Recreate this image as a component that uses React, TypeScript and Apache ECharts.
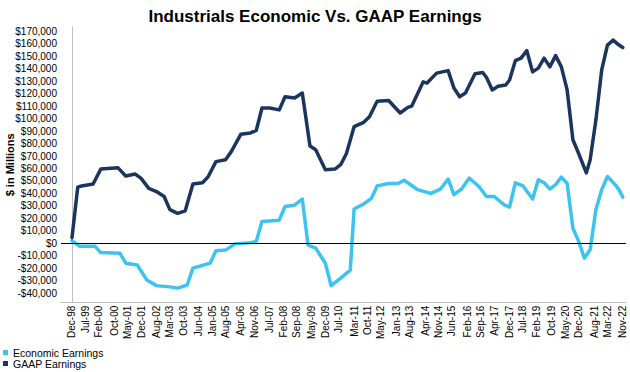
import React, { useEffect, useRef } from "react";
import * as echarts from "echarts";

const MONTH_NAMES = ["Jan", "Feb", "Mar", "Apr", "May", "Jun", "Jul", "Aug", "Sep", "Oct", "Nov", "Dec"];
// Monthly categories from Dec-98 to Nov-22
const months: string[] = Array.from({ length: 288 }, (_, i) => {
  const m = (11 + i) % 12;
  const y = 1998 + Math.floor((11 + i) / 12);
  return `${MONTH_NAMES[m]}-${String(y % 100).padStart(2, "0")}`;
});

const tickLabels = [
  "Dec-98", "Jul-99", "Feb-00", "Oct-00", "May-01", "Dec-01", "Aug-02", "Mar-03", "Oct-03", "Jun-04",
  "Jan-05", "Aug-05", "Apr-06", "Nov-06", "Jul-07", "Feb-08", "Sep-08", "May-09", "Dec-09", "Jul-10",
  "Mar-11", "Oct-11", "May-12", "Jan-13", "Aug-13", "Apr-14", "Nov-14", "Jun-15", "Feb-16", "Sep-16",
  "Apr-17", "Dec-17", "Jul-18", "Feb-19", "Oct-19", "May-20", "Dec-20", "Aug-21", "Mar-22", "Nov-22",
];

const yTicks = [
  -40000, -30000, -20000, -10000, 0, 10000, 20000, 30000, 40000, 50000, 60000, 70000, 80000, 90000,
  100000, 110000, 120000, 130000, 140000, 150000, 160000, 170000,
];

const gaapDates = [
  "Dec-98", "Mar-99", "May-99", "Nov-99", "Mar-00", "Dec-00", "Apr-01", "Sep-01", "Dec-01", "Apr-02",
  "Aug-02", "Dec-02", "Mar-03", "Jul-03", "Nov-03", "Mar-04", "Aug-04", "Nov-04", "Mar-05", "Aug-05",
  "Nov-05", "Apr-06", "Sep-06", "Dec-06", "Mar-07", "Jul-07", "Dec-07", "Mar-08", "Aug-08", "Dec-08",
  "Apr-09", "Jul-09", "Dec-09", "May-10", "Aug-10", "Nov-10", "Mar-11", "Aug-11", "Nov-11", "Mar-12",
  "Sep-12", "Mar-13", "Jul-13", "Sep-13", "Mar-14", "May-14", "Oct-14", "Apr-15", "Jul-15", "Oct-15",
  "Jan-16", "Jun-16", "Oct-16", "Dec-16", "Mar-17", "Jun-17", "Oct-17", "Dec-17", "Mar-18", "Jun-18",
  "Sep-18", "Dec-18", "Mar-19", "Jun-19", "Sep-19", "Dec-19", "Mar-20", "Jun-20", "Sep-20", "Dec-20",
  "Apr-21", "Jun-21", "Sep-21", "Dec-21", "Mar-22", "Jun-22", "Sep-22", "Nov-22",
];
const gaapValues = [
  4500, 45000, 46000, 47500, 59500, 60500, 54000, 55500, 52000, 44000,
  41500, 37500, 27000, 24000, 26000, 47500, 48500, 53500, 65500, 67000,
  73500, 87500, 88500, 90500, 108500, 108500, 107000, 117500, 116500, 120500,
  78000, 75000, 59000, 59500, 63000, 72000, 93500, 97000, 101500, 114000,
  114500, 104500, 109000, 110000, 129500, 128500, 136500, 138500, 124500, 117500,
  120500, 136000, 137000, 133000, 123000, 126000, 127000, 131000, 146500, 148500,
  154500, 137500, 140500, 148500, 141500, 150500, 141500, 123000, 83000, 72000,
  56500, 67000, 99000, 139000, 159000, 163000, 159000, 157000,
];

const econDates = [
  "Dec-98", "Apr-99", "Dec-99", "Mar-00", "Jan-01", "Apr-01", "Oct-01", "Mar-02", "Aug-02", "Mar-03",
  "Jul-03", "Dec-03", "Mar-04", "Dec-04", "Mar-05", "Aug-05", "Jan-06", "Sep-06", "Dec-06", "Mar-07",
  "Dec-07", "Mar-08", "Aug-08", "Dec-08", "Mar-09", "Jul-09", "Dec-09", "Mar-10", "Aug-10", "Jan-11",
  "Mar-11", "Aug-11", "Dec-11", "Mar-12", "Sep-12", "Feb-13", "May-13", "Jul-13", "Dec-13", "Jul-14",
  "Oct-14", "Dec-14", "Apr-15", "Jul-15", "Nov-15", "Mar-16", "Aug-16", "Dec-16", "Apr-17", "Sep-17",
  "Dec-17", "Mar-18", "Jul-18", "Dec-18", "Mar-19", "Jun-19", "Sep-19", "Dec-19", "Mar-20", "Jun-20",
  "Sep-20", "Dec-20", "Mar-21", "Jun-21", "Sep-21", "Dec-21", "Mar-22", "Jul-22", "Sep-22", "Nov-22",
];
const econValues = [
  2000, -2500, -2500, -7500, -8000, -16000, -17500, -29500, -34000, -35000,
  -36000, -33500, -20000, -16000, -6000, -5500, -500, 500, 1500, 17500,
  18500, 29500, 30500, 35500, -1500, -4000, -16000, -34000, -28000, -21500,
  27500, 31500, 36000, 46000, 48000, 48000, 50500, 48500, 43000, 40000,
  42000, 43500, 51500, 39000, 43500, 52300, 45500, 37500, 37500, 31000,
  29000, 48500, 46000, 35500, 51000, 48500, 43500, 47000, 53000, 48000,
  12000, 1500, -12000, -5000, 27000, 43000, 53500, 47000, 43000, 37000,
];

const FONT = "'Liberation Sans', Arial, Helvetica, sans-serif";
const ECON_COLOR = "#3cc3f0";
const GAAP_COLOR = "#1c355e";

const fmtMoney = (v: number) => (v < 0 ? "-$" : "$") + Math.abs(v).toLocaleString("en-US");

export default function App() {
  const ref = useRef<HTMLDivElement>(null);

  useEffect(() => {
    if (!ref.current) return;
    const chart = echarts.init(ref.current, undefined, { renderer: "svg" });
    const toPoints = (dates: string[], values: number[]) =>
      dates.map((d, i) => [months.indexOf(d), values[i]]);

    chart.setOption({
      animation: false,
      textStyle: { fontFamily: FONT },
      title: {
        text: "Industrials Economic Vs. GAAP Earnings",
        left: "center",
        top: 3,
        textStyle: { fontSize: 17, fontWeight: "bold", color: "#000", fontFamily: FONT },
      },
      legend: {
        data: ["Economic Earnings", "GAAP Earnings"],
        orient: "vertical",
        left: 3,
        top: 347,
        padding: 0,
        itemGap: 0,
        itemWidth: 5,
        itemHeight: 5,
        icon: "rect",
        textStyle: { fontSize: 10.5, color: "#000", lineHeight: 11, fontFamily: FONT },
      },
      grid: { left: 61, right: 4, top: 27, bottom: 69.3, containLabel: false, outerBoundsMode: "none" },
      xAxis: {
        type: "value",
        min: -5.73,
        max: 288.67,
        axisLine: { show: true, onZero: false, lineStyle: { color: "#bfbfbf", width: 1 } },
        axisTick: { show: false },
        splitLine: { show: false },
        axisLabel: {
          customValues: tickLabels.map((l) => months.indexOf(l)),
          formatter: (v: number) => months[Math.round(v)],
          rotate: 90,
          fontSize: 10,
          color: "#000",
          margin: 3,
          fontFamily: FONT,
        },
      },
      yAxis: {
        type: "value",
        min: -47700,
        max: 173500,
        name: "$ in Millions",
        nameLocation: "middle",
        nameGap: 46,
        nameMoveOverlap: false,
        nameTextStyle: { fontSize: 11, fontWeight: "bold", color: "#000", fontFamily: FONT },
        axisLine: { show: true, lineStyle: { color: "#bfbfbf", width: 1 } },
        axisTick: { show: false },
        splitLine: { show: false },
        axisLabel: {
          customValues: yTicks,
          formatter: (v: number) => fmtMoney(v),
          fontSize: 10,
          color: "#000",
          margin: 4,
          fontFamily: FONT,
        },
      },
      series: [
        {
          name: "Economic Earnings",
          type: "line",
          data: toPoints(econDates, econValues),
          symbol: "none",
          color: ECON_COLOR,
          lineStyle: { color: ECON_COLOR, width: 3.5, cap: "round", join: "round" },
          markLine: {
            silent: true,
            symbol: ["none", "none"],
            label: { show: false },
            lineStyle: { color: "#000", width: 1, type: "solid" },
            data: [{ yAxis: 0 }],
          },
        },
        {
          name: "GAAP Earnings",
          type: "line",
          data: toPoints(gaapDates, gaapValues),
          symbol: "none",
          color: GAAP_COLOR,
          lineStyle: { color: GAAP_COLOR, width: 3.5, cap: "round", join: "round" },
        },
      ],
    });
    return () => chart.dispose();
  }, []);

  return (
    <div
      ref={ref}
      style={{ position: "fixed", left: 0, top: 0, width: 630, height: 372, background: "#fff" }}
    />
  );
}
